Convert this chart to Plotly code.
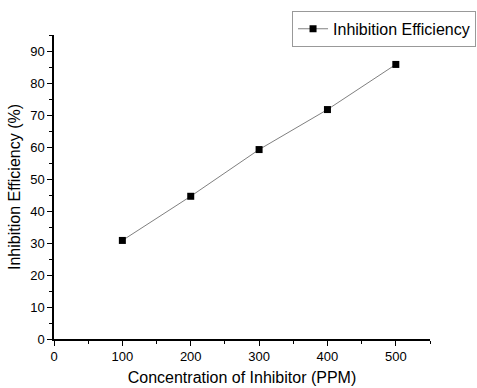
import plotly.graph_objects as go

conc = [100, 200, 300, 400, 500]
efficiency = [30.8, 44.6, 59.2, 71.7, 85.8]
series_name = "Inhibition Efficiency"

fig = go.Figure()
fig.add_trace(go.Scatter(
    x=conc, y=efficiency, mode="lines+markers", name=series_name,
    line=dict(color="#808080", width=1),
    marker=dict(symbol="square", size=7, color="black"),
    showlegend=True,
))

font = "Liberation Sans, Arial, sans-serif"
fig.update_layout(
    width=477, height=388,
    margin=dict(l=54, r=47, t=35, b=49, autoexpand=False),
    plot_bgcolor="white", paper_bgcolor="white",
    font=dict(family=font, size=13, color="black"),
    showlegend=True,
    legend=dict(x=0.998, xanchor="right", y=0.972, yanchor="top",
                xref="container", yref="container",
                bordercolor="#999999", borderwidth=1,
                font=dict(size=16, family=font),
                itemwidth=30, tracegroupgap=0),
    xaxis=dict(range=[0, 550], tickvals=[0, 100, 200, 300, 400, 500],
               showline=True, linecolor="black", linewidth=1.5,
               ticks="outside", ticklen=5, tickcolor="black",
               minor=dict(ticks="outside", dtick=50, ticklen=3, tickcolor="black"),
               showgrid=False, zeroline=False, automargin=False,
               title=dict(text="Concentration of Inhibitor (PPM)", font=dict(size=16), standoff=8),
               tickfont=dict(size=13)),
    yaxis=dict(range=[0, 95], tickvals=list(range(0, 100, 10)),
               showline=True, linecolor="black", linewidth=1.5,
               ticks="outside", ticklen=5, tickcolor="black",
               minor=dict(ticks="outside", dtick=5, ticklen=3, tickcolor="black"),
               showgrid=False, zeroline=False, automargin=False,
               title=dict(text="Inhibition Efficiency (%)", font=dict(size=16), standoff=6),
               tickfont=dict(size=13)),
)
fig.write_html("out.html")
